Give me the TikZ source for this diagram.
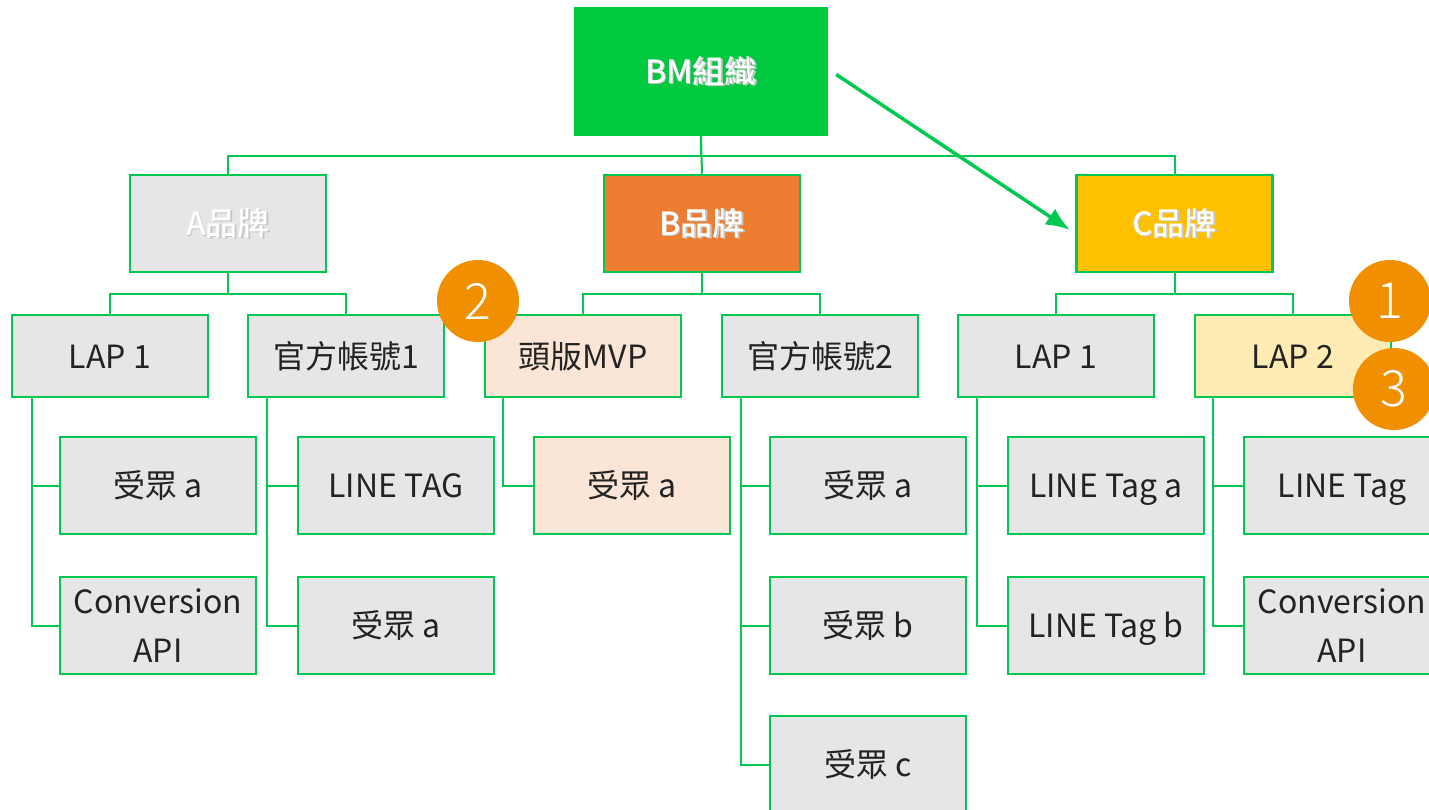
\documentclass[tikz,border=0pt]{standalone}
\usepackage{fontspec}
\setmainfont{Noto Sans CJK TC}
\newfontfamily\brandfont{Noto Sans CJK TC Medium}
\newfontfamily\numfont{Noto Sans CJK TC Light}
\usetikzlibrary{arrows.meta,calc}
\definecolor{lgreen}{HTML}{00C850}
\definecolor{bmgreen}{HTML}{00C940}
\definecolor{boxgray}{HTML}{E6E6E6}
\definecolor{borange}{HTML}{ED7D31}
\definecolor{cyellow}{HTML}{FFC000}
\definecolor{peach}{HTML}{FBE5D6}
\definecolor{lyellow}{HTML}{FFECB4}
\definecolor{circorange}{HTML}{F09000}
\definecolor{txt}{HTML}{232323}
\newcommand\shtext[1]{\makebox[0pt][l]{\raisebox{-1.5pt}{\hspace{1.5pt}\color{black!22}#1}}#1}
\tikzset{
  x=1pt, y=-1pt,
  box/.style={draw=lgreen, line width=2.5pt, fill=boxgray, minimum width=196pt, minimum height=97pt, inner sep=0pt, text=txt, font=\fontsize{32}{49}\selectfont, align=center},
  oneline/.style={text height=28pt, text depth=4pt},
  lvltwo/.style={box, oneline, minimum height=82pt},
  brand/.style={box, oneline, text=white, font=\fontsize{32}{36}\selectfont\brandfont},
  conn/.style={draw=lgreen, line width=2pt},
  badge/.style={circle, fill=circorange, minimum size=82pt, inner sep=0pt, text=white, font=\fontsize{50}{54}\selectfont\numfont}
}
\begin{document}
\begin{tikzpicture}
\clip (0,0) rectangle (1429,810);
\fill[white] (0,0) rectangle (1429,810);
% top
\node[brand, fill=bmgreen, draw=bmgreen, minimum width=252pt, minimum height=127pt] (bm) at (701,71.5) {\shtext{BM組織}};
% brands
\node[brand] (ba) at (228,223.5) {\shtext{A品牌}};
\node[brand, fill=borange] (bb) at (702,223.5) {\shtext{B品牌}};
\node[brand, fill=cyellow] (bc) at (1174.5,223.5) {\shtext{C品牌}};
% level two
\node[lvltwo] (alap) at (110,356) {LAP 1};
\node[lvltwo] (aoff) at (346,356) {官方帳號1};
\node[lvltwo, fill=peach] (bmvp) at (583,356) {頭版MVP};
\node[lvltwo] (boff) at (820,356) {官方帳號2};
\node[lvltwo] (clap) at (1056,356) {LAP 1};
\node[lvltwo, fill=lyellow] (clap2) at (1293,356) {LAP 2};
% level three
\node[box, oneline] (a1) at (158,485.5) {受眾 a};
\node[box] (a2) at (158,625.5) {Conversion\\API};
\node[box, oneline] (a3) at (396,485.5) {LINE TAG};
\node[box, oneline] (a4) at (396,625.5) {受眾 a};
\node[box, oneline, fill=peach] (b1) at (632,485.5) {受眾 a};
\node[box, oneline] (b2) at (868,485.5) {受眾 a};
\node[box, oneline] (b3) at (868,625.5) {受眾 b};
\node[box, oneline] (b4) at (868,764.5) {受眾 c};
\node[box, oneline] (c1) at (1106,485.5) {LINE Tag a};
\node[box, oneline] (c2) at (1106,625.5) {LINE Tag b};
\node[box, oneline] (c3) at (1342,485.5) {LINE Tag};
\node[box] (c4) at (1342,625.5) {Conversion\\API};
% connectors top
\draw[conn] (bm.south) -- (bb.north);
\draw[conn] (bm.south) -- ++(0,20) -| (ba.north);
\draw[conn] (bm.south) -- ++(0,20) -| (bc.north);
\draw[conn] (ba.south) -- ++(0,21) -| (alap.north);
\draw[conn] (ba.south) -- ++(0,21) -| (aoff.north);
\draw[conn] (bb.south) -- ++(0,21) -| (bmvp.north);
\draw[conn] (bb.south) -- ++(0,21) -| (boff.north);
\draw[conn] (bc.south) -- ++(0,21) -| (clap.north);
\draw[conn] (bc.south) -- ++(0,21) -| (clap2.north);
% connectors children
\draw[conn] ([xshift=21pt]alap.south west) |- (a1.west);
\draw[conn] ([xshift=21pt]alap.south west) |- (a2.west);
\draw[conn] ([xshift=20pt]aoff.south west) |- (a3.west);
\draw[conn] ([xshift=20pt]aoff.south west) |- (a4.west);
\draw[conn] ([xshift=19pt]bmvp.south west) |- (b1.west);
\draw[conn] ([xshift=20pt]boff.south west) |- (b2.west);
\draw[conn] ([xshift=20pt]boff.south west) |- (b3.west);
\draw[conn] ([xshift=20pt]boff.south west) |- (b4.west);
\draw[conn] ([xshift=20pt]clap.south west) |- (c1.west);
\draw[conn] ([xshift=20pt]clap.south west) |- (c2.west);
\draw[conn] ([xshift=19pt]clap2.south west) |- (c3.west);
\draw[conn] ([xshift=19pt]clap2.south west) |- (c4.west);
% arrow
\coordinate (arrEnd) at (1070,230);
\draw[draw=lgreen, line width=3.5pt, -{Latex[length=24pt,width=19pt]}] ([xshift=8pt,yshift=-3pt]bm.east) -- (arrEnd);
% badges
\node[badge] (n2) at (478,301) {2};
\node[badge] (n1) at (1390,301) {1};
\node[badge] (n3) at (1394,389) {3};
\end{tikzpicture}
\end{document}
